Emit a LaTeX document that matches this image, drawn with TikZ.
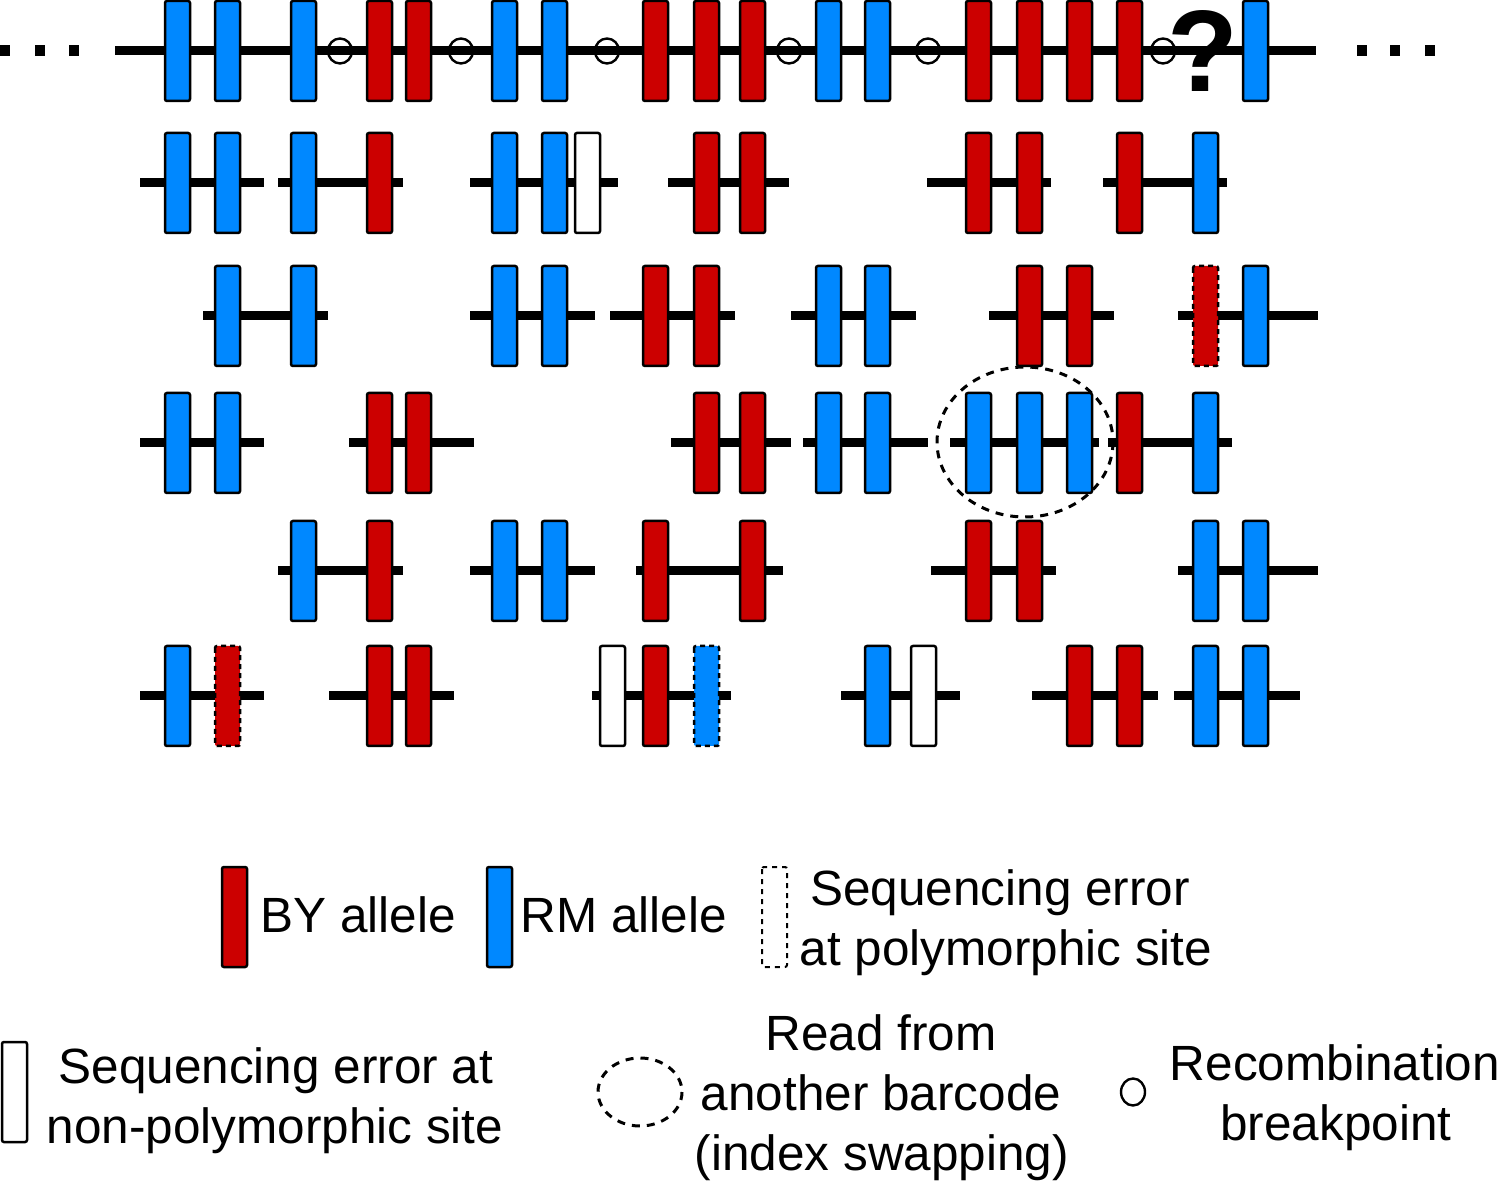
\documentclass[tikz,border=0pt]{standalone}
\usepackage{fontspec}
\setmainfont{Liberation Sans}
\definecolor{byred}{RGB}{204,0,0}
\definecolor{rmblue}{RGB}{0,136,255}
\tikzset{
  allelebox/.style={draw=black, line width=1.25pt, rounded corners=1pt},
  by/.style={allelebox, fill=byred},
  rm/.style={allelebox, fill=rmblue},
  byerr/.style={by, dash pattern=on 2.5pt off 2pt},
  rmerr/.style={rm, dash pattern=on 2.5pt off 2pt},
  nonpoly/.style={allelebox, fill=white},
  polyerr/.style={allelebox, fill=white, line width=1pt, dash pattern=on 2.5pt off 2.5pt},
  readline/.style={line width=4.5pt, black},
  breakpt/.style={draw=black, line width=1.2pt},
  swapring/.style={draw=black, line width=1.5pt, dash pattern=on 4pt off 3.5pt},
  lbl/.style={font=\fontsize{24.75pt}{30pt}\selectfont, anchor=base, inner sep=0pt},
  lblw/.style={lbl, anchor=base west},
  dotsq/.style={fill=black},
}
% #1 left edge, #2 centre y, #3 style
\newcommand\allele[3]{\draw[#3] (#1,#2-50) rectangle ++(25,100);}
% #1 start x, #2 end x, #3 y
\newcommand\readseg[3]{\draw[readline] (#1,#3) -- (#2,#3);}
\begin{document}
\begin{tikzpicture}[x=0.5pt,y=-0.5pt]
\useasboundingbox (0,0) rectangle (1500,1181);

% ---------- row 1: reference chromosome ----------
\readseg{115}{1316}{51}
\foreach \l/\s in {165/rm,215/rm,291/rm,367/by,406/by,492/rm,542/rm,643/by,694/by,740/by,816/rm,865/rm,966/by,1017/by,1067/by,1117/by,1243/rm}
  {\allele{\l}{51}{\s}}
\foreach \c in {340,461,607,789,928,1163}
  {\draw[breakpt] (\c,51) ellipse [x radius=12, y radius=12.5];}
\node[font=\fontsize{58pt}{60pt}\selectfont\bfseries, anchor=base, inner sep=0pt] (qmark) at (1203,92) {?};
\foreach \c in {5,40,74,1362,1395,1430}
  {\fill[dotsq] (\c-5,45) rectangle (\c+5,56);}

% ---------- row 2 ----------
\readseg{140}{264}{183}  \allele{165}{183}{rm} \allele{215}{183}{rm}
\readseg{278}{403}{183}  \allele{291}{183}{rm} \allele{367}{183}{by}
\readseg{470}{618}{183}  \allele{492}{183}{rm} \allele{542}{183}{rm} \allele{575}{183}{nonpoly}
\readseg{668}{789}{183}  \allele{694}{183}{by} \allele{740}{183}{by}
\readseg{927}{1051}{183} \allele{966}{183}{by} \allele{1017}{183}{by}
\readseg{1103}{1227}{183} \allele{1117}{183}{by} \allele{1193}{183}{rm}

% ---------- row 3 ----------
\readseg{203}{328}{316}  \allele{215}{316}{rm} \allele{291}{316}{rm}
\readseg{470}{595}{316}  \allele{492}{316}{rm} \allele{542}{316}{rm}
\readseg{610}{735}{316}  \allele{643}{316}{by} \allele{694}{316}{by}
\readseg{791}{916}{316}  \allele{816}{316}{rm} \allele{865}{316}{rm}
\readseg{989}{1114}{316} \allele{1017}{316}{by} \allele{1067}{316}{by}
\readseg{1178}{1318}{316} \allele{1193}{316}{byerr} \allele{1243}{316}{rm}

% ---------- row 4 ----------
\readseg{140}{264}{443}  \allele{165}{443}{rm} \allele{215}{443}{rm}
\readseg{349}{474}{443}  \allele{367}{443}{by} \allele{406}{443}{by}
\readseg{671}{791}{443}  \allele{694}{443}{by} \allele{740}{443}{by}
\readseg{803}{928}{443}  \allele{816}{443}{rm} \allele{865}{443}{rm}
\readseg{950}{1099}{443} \allele{966}{443}{rm} \allele{1017}{443}{rm} \allele{1067}{443}{rm}
\readseg{1108}{1232}{443} \allele{1117}{443}{by} \allele{1193}{443}{rm}
\draw[swapring] (1025,442) ellipse [x radius=88, y radius=75];

% ---------- row 5 ----------
\readseg{278}{403}{571}  \allele{291}{571}{rm} \allele{367}{571}{by}
\readseg{470}{595}{571}  \allele{492}{571}{rm} \allele{542}{571}{rm}
\readseg{636}{783}{571}  \allele{643}{571}{by} \allele{740}{571}{by}
\readseg{931}{1056}{571} \allele{966}{571}{by} \allele{1017}{571}{by}
\readseg{1178}{1318}{571} \allele{1193}{571}{rm} \allele{1243}{571}{rm}

% ---------- row 6 ----------
\readseg{140}{264}{696}  \allele{165}{696}{rm} \allele{215}{696}{byerr}
\readseg{329}{454}{696}  \allele{367}{696}{by} \allele{406}{696}{by}
\readseg{592}{731}{696}  \allele{600}{696}{nonpoly} \allele{643}{696}{by} \allele{694}{696}{rmerr}
\readseg{841}{960}{696}  \allele{865}{696}{rm} \allele{911}{696}{nonpoly}
\readseg{1032}{1158}{696} \allele{1067}{696}{by} \allele{1117}{696}{by}
\readseg{1174}{1300}{696} \allele{1193}{696}{rm} \allele{1243}{696}{rm}

% ---------- legend, first line ----------
\allele{222}{917}{by}
\node[lblw] (lby) at (260,932) {BY allele};
\allele{487}{917}{rm}
\node[lblw] (lrm) at (520,932) {RM allele};
\allele{762}{917}{polyerr}
\node[lbl] (lpe1) at (1000,905) {Sequencing error};
\node[lbl] (lpe2) at (1006,965) {at polymorphic site};

% ---------- legend, second line ----------
\allele{2}{1092}{nonpoly}
\node[lbl] (lnp1) at (276,1083) {Sequencing error at};
\node[lbl] (lnp2) at (275,1143) {non-polymorphic site};
\draw[swapring] (640,1092) ellipse [x radius=42, y radius=34];
\node[lbl] (lsw1) at (881,1050) {Read from};
\node[lbl] (lsw2) at (881,1110) {another barcode};
\node[lbl] (lsw3) at (882,1170) {(index swapping)};
\draw[breakpt] (1133,1092) ellipse [x radius=12, y radius=13.5];
\node[lbl] (lrb1) at (1335,1080) {Recombination};
\node[lbl] (lrb2) at (1336,1140) {breakpoint};
\end{tikzpicture}
\end{document}
